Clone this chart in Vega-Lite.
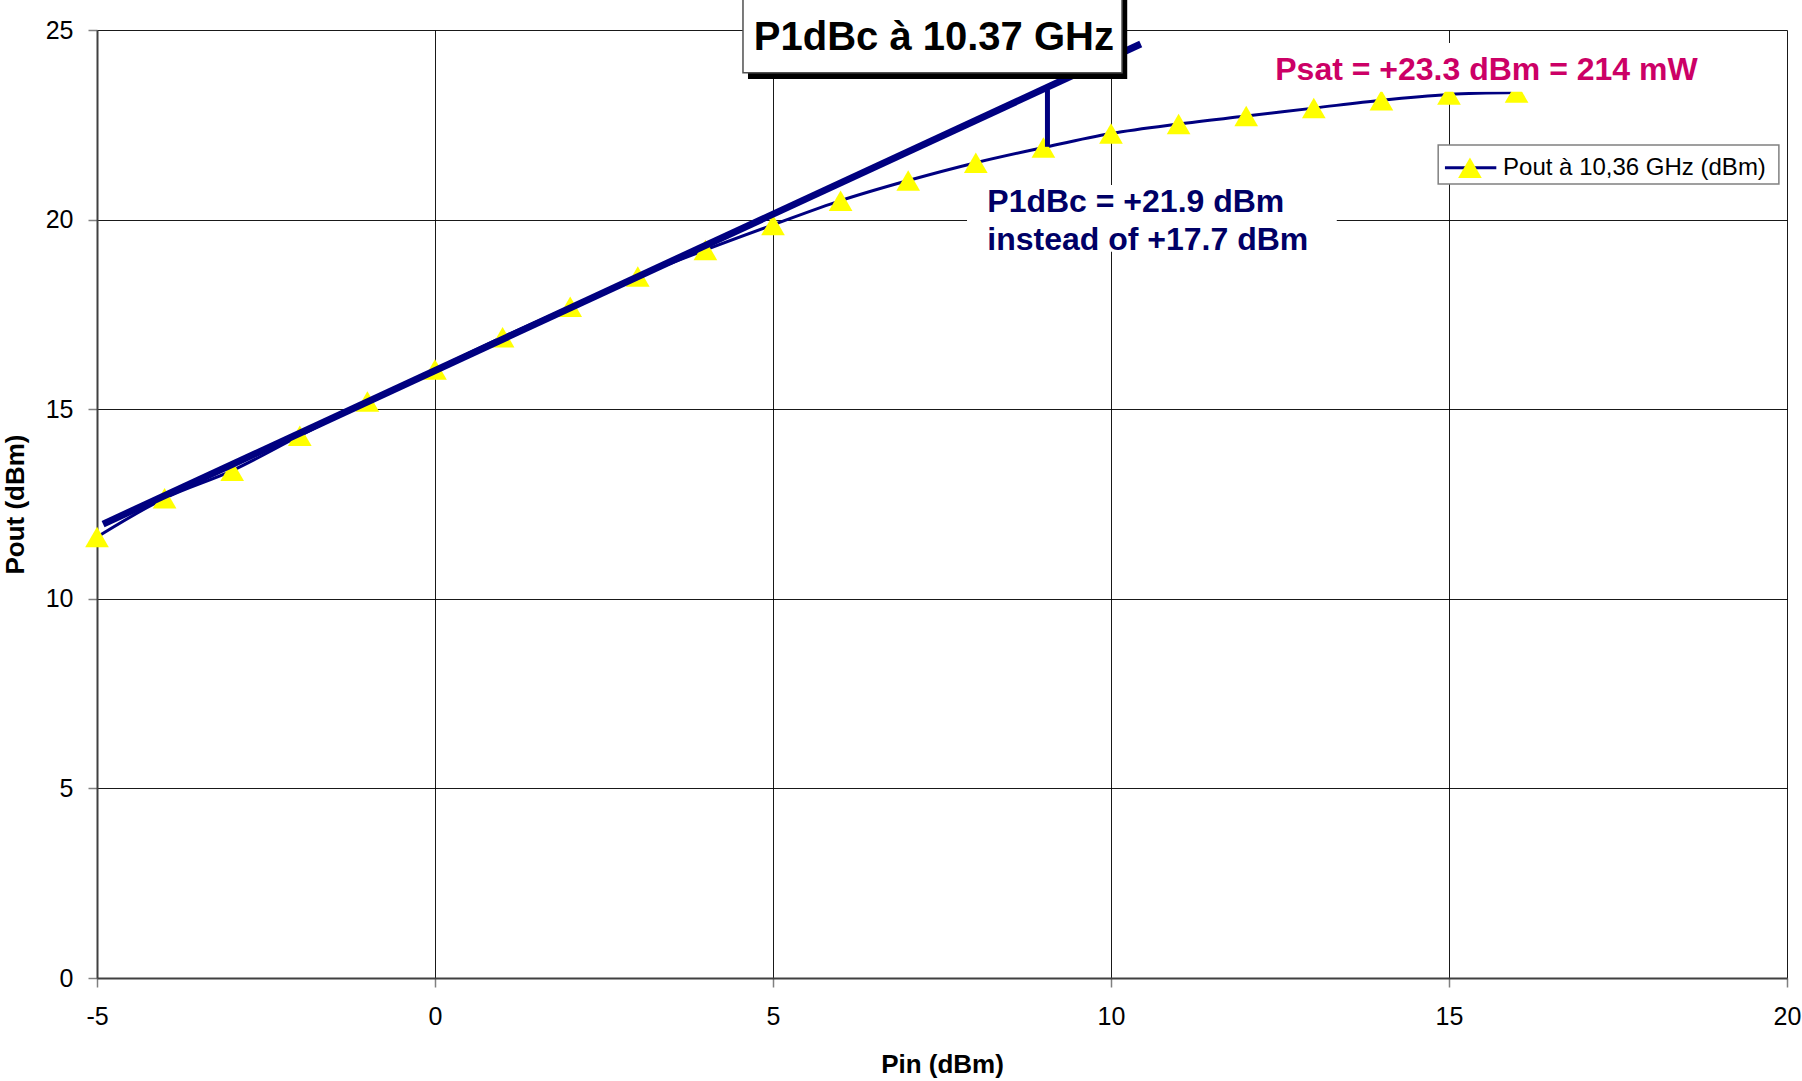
{
  "$schema": "https://vega.github.io/schema/vega-lite/v6.json",
  "width": 1690,
  "height": 948,
  "autosize": {"type": "none"},
  "padding": {"left": 97, "top": 30, "right": 15, "bottom": 103},
  "background": "white",
  "config": {
    "view": {"stroke": null},
    "font": "Liberation Sans",
    "axis": {
      "gridColor": "#000000",
      "gridWidth": 1,
      "gridOpacity": 0.9,
      "domainColor": "#404040",
      "domainWidth": 2,
      "tickColor": "#808080",
      "tickSize": 9,
      "tickWidth": 1.5,
      "labelFont": "Liberation Sans",
      "labelFontSize": 25,
      "labelColor": "#000000",
      "titleFont": "Liberation Sans",
      "titleFontSize": 26,
      "titleFontWeight": "bold",
      "titleColor": "#000000"
    }
  },
  "layer": [
    {
      "data": {"values": [{"pin": 7.87, "pin2": 13.34, "pout": 19.15, "pout2": 20.91}]},
      "mark": {"type": "rect", "fill": "white"},
      "encoding": {
        "x": {"field": "pin", "type": "quantitative", "scale": {"domain": [-5, 20], "nice": false, "zero": false},
              "axis": {"values": [-5, 0, 5, 10, 15, 20], "labelExpr": "'' + datum.value", "title": "Pin (dBm)", "labelPadding": 17, "titlePadding": 22, "labelFlush": false, "labelOverlap": false}},
        "x2": {"field": "pin2"},
        "y": {"field": "pout", "type": "quantitative", "scale": {"domain": [0, 25], "nice": false, "zero": false},
              "axis": {"values": [0, 5, 10, 15, 20, 25], "labelExpr": "'' + datum.value", "title": "Pout (dBm)", "labelPadding": 15, "titlePadding": 17, "labelFlush": false, "labelOverlap": false}},
        "y2": {"field": "pout2"}
      }
    },
    {
      "data": {"name": "series", "values": [
        {"pin": -5, "pout": 11.63}, {"pin": -4, "pout": 12.65}, {"pin": -3, "pout": 13.38},
        {"pin": -2, "pout": 14.3}, {"pin": -1, "pout": 15.2}, {"pin": 0, "pout": 16.05},
        {"pin": 1, "pout": 16.9}, {"pin": 2, "pout": 17.7}, {"pin": 3, "pout": 18.5},
        {"pin": 4, "pout": 19.2}, {"pin": 5, "pout": 19.86}, {"pin": 6, "pout": 20.5},
        {"pin": 7, "pout": 21.03}, {"pin": 8, "pout": 21.5}, {"pin": 9, "pout": 21.9},
        {"pin": 10, "pout": 22.27}, {"pin": 11, "pout": 22.52}, {"pin": 12, "pout": 22.73},
        {"pin": 13, "pout": 22.94}, {"pin": 14, "pout": 23.15}, {"pin": 15, "pout": 23.3},
        {"pin": 16, "pout": 23.35}
      ]},
      "layer": [
        {
          "mark": {"type": "line", "color": "#000080", "strokeWidth": 3, "interpolate": "monotone"},
          "encoding": {
            "x": {"field": "pin", "type": "quantitative", "scale": {"domain": [-5, 20], "nice": false, "zero": false}},
            "y": {"field": "pout", "type": "quantitative", "scale": {"domain": [0, 25], "nice": false, "zero": false}}
          }
        },
        {
          "mark": {"type": "point", "shape": "triangle-up", "filled": true, "fill": "#FFFF00", "opacity": 1, "size": 560, "strokeWidth": 0},
          "encoding": {
            "x": {"field": "pin", "type": "quantitative", "scale": {"domain": [-5, 20], "nice": false, "zero": false}},
            "y": {"field": "pout", "type": "quantitative", "scale": {"domain": [0, 25], "nice": false, "zero": false}}
          }
        }
      ]
    },
    {
      "data": {"values": [{"pin": 12.3, "pin2": 18.9, "pout": 23.37, "pout2": 24.66}]},
      "mark": {"type": "rect", "fill": "white"},
      "encoding": {
        "x": {"field": "pin", "type": "quantitative", "scale": {"domain": [-5, 20], "nice": false, "zero": false}},
        "x2": {"field": "pin2"},
        "y": {"field": "pout", "type": "quantitative", "scale": {"domain": [0, 25], "nice": false, "zero": false}},
        "y2": {"field": "pout2"}
      }
    },
    {
      "data": {"values": [{"pin": -4.91, "pout": 11.97}, {"pin": 10.44, "pout": 24.63}]},
      "mark": {"type": "line", "color": "#000080", "strokeWidth": 7, "strokeCap": "butt"},
      "encoding": {
        "x": {"field": "pin", "type": "quantitative", "scale": {"domain": [-5, 20], "nice": false, "zero": false}},
        "y": {"field": "pout", "type": "quantitative", "scale": {"domain": [0, 25], "nice": false, "zero": false}}
      }
    },
    {
      "data": {"values": [{"pin": 9.06, "pout": 21.92, "pout2": 23.42}]},
      "mark": {"type": "rule", "color": "#000080", "strokeWidth": 5},
      "encoding": {
        "x": {"field": "pin", "type": "quantitative", "scale": {"domain": [-5, 20], "nice": false, "zero": false}},
        "y": {"field": "pout", "type": "quantitative", "scale": {"domain": [0, 25], "nice": false, "zero": false}},
        "y2": {"field": "pout2"}
      }
    },
    {
      "data": {"values": [{"pin": 4.63, "pin2": 10.24, "pout": 23.71, "pout2": 25.9}]},
      "mark": {"type": "rect", "fill": "#000000"},
      "encoding": {
        "x": {"field": "pin", "type": "quantitative", "scale": {"domain": [-5, 20], "nice": false, "zero": false}},
        "x2": {"field": "pin2"},
        "y": {"field": "pout", "type": "quantitative", "scale": {"domain": [0, 25], "nice": false, "zero": false}},
        "y2": {"field": "pout2"}
      }
    },
    {
      "data": {"values": [{"pin": 4.556, "pin2": 10.163, "pout": 23.87, "pout2": 25.9}]},
      "mark": {"type": "rect", "fill": "white", "stroke": "#505050", "strokeWidth": 1.5},
      "encoding": {
        "x": {"field": "pin", "type": "quantitative", "scale": {"domain": [-5, 20], "nice": false, "zero": false}},
        "x2": {"field": "pin2"},
        "y": {"field": "pout", "type": "quantitative", "scale": {"domain": [0, 25], "nice": false, "zero": false}},
        "y2": {"field": "pout2"}
      }
    },
    {
      "data": {"values": [{"pin": 7.38, "pout": 24.47, "label": "P1dBc à 10.37 GHz"}]},
      "mark": {"type": "text", "font": "Liberation Sans", "fontSize": 40, "fontWeight": "bold", "color": "#000000", "align": "center", "baseline": "alphabetic"},
      "encoding": {
        "x": {"field": "pin", "type": "quantitative", "scale": {"domain": [-5, 20], "nice": false, "zero": false}},
        "y": {"field": "pout", "type": "quantitative", "scale": {"domain": [0, 25], "nice": false, "zero": false}},
        "text": {"field": "label"}
      }
    },
    {
      "data": {"values": [{"pin": 12.43, "pout": 23.68, "label": "Psat = +23.3 dBm = 214 mW"}]},
      "mark": {"type": "text", "font": "Liberation Sans", "fontSize": 32, "fontWeight": "bold", "color": "#CC0066", "align": "left", "baseline": "alphabetic"},
      "encoding": {
        "x": {"field": "pin", "type": "quantitative", "scale": {"domain": [-5, 20], "nice": false, "zero": false}},
        "y": {"field": "pout", "type": "quantitative", "scale": {"domain": [0, 25], "nice": false, "zero": false}},
        "text": {"field": "label"}
      }
    },
    {
      "data": {"values": [
        {"pin": 8.17, "pout": 20.2, "label": "P1dBc = +21.9 dBm"},
        {"pin": 8.17, "pout": 19.2, "label": "instead of +17.7 dBm"}
      ]},
      "mark": {"type": "text", "font": "Liberation Sans", "fontSize": 32, "fontWeight": "bold", "color": "#000066", "align": "left", "baseline": "alphabetic"},
      "encoding": {
        "x": {"field": "pin", "type": "quantitative", "scale": {"domain": [-5, 20], "nice": false, "zero": false}},
        "y": {"field": "pout", "type": "quantitative", "scale": {"domain": [0, 25], "nice": false, "zero": false}},
        "text": {"field": "label"}
      }
    },
    {
      "data": {"values": [{"pin": 14.84, "pin2": 19.88, "pout": 20.94, "pout2": 21.97}]},
      "mark": {"type": "rect", "fill": "white", "stroke": "#808080", "strokeWidth": 1.5},
      "encoding": {
        "x": {"field": "pin", "type": "quantitative", "scale": {"domain": [-5, 20], "nice": false, "zero": false}},
        "x2": {"field": "pin2"},
        "y": {"field": "pout", "type": "quantitative", "scale": {"domain": [0, 25], "nice": false, "zero": false}},
        "y2": {"field": "pout2"}
      }
    },
    {
      "data": {"values": [{"pin": 14.94, "pin2": 15.7, "pout": 21.37}]},
      "mark": {"type": "rule", "color": "#000080", "strokeWidth": 3},
      "encoding": {
        "x": {"field": "pin", "type": "quantitative", "scale": {"domain": [-5, 20], "nice": false, "zero": false}},
        "x2": {"field": "pin2"},
        "y": {"field": "pout", "type": "quantitative", "scale": {"domain": [0, 25], "nice": false, "zero": false}}
      }
    },
    {
      "data": {"values": [{"pin": 15.31, "pout": 21.37}]},
      "mark": {"type": "point", "shape": "triangle-up", "filled": true, "fill": "#FFFF00", "opacity": 1, "size": 560, "strokeWidth": 0},
      "encoding": {
        "x": {"field": "pin", "type": "quantitative", "scale": {"domain": [-5, 20], "nice": false, "zero": false}},
        "y": {"field": "pout", "type": "quantitative", "scale": {"domain": [0, 25], "nice": false, "zero": false}}
      }
    },
    {
      "data": {"values": [{"pin": 15.8, "pout": 21.18, "label": "Pout à 10,36 GHz (dBm)"}]},
      "mark": {"type": "text", "font": "Liberation Sans", "fontSize": 24, "color": "#000000", "align": "left", "baseline": "alphabetic"},
      "encoding": {
        "x": {"field": "pin", "type": "quantitative", "scale": {"domain": [-5, 20], "nice": false, "zero": false}},
        "y": {"field": "pout", "type": "quantitative", "scale": {"domain": [0, 25], "nice": false, "zero": false}},
        "text": {"field": "label"}
      }
    }
  ]
}
